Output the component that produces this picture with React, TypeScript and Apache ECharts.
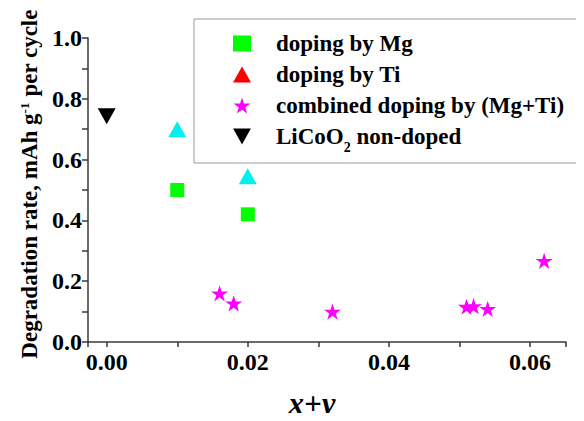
import React, { useEffect, useRef } from "react";
import * as echarts from "echarts";

const mgX = [0.01, 0.02];
const mgY = [0.5, 0.42];
const tiX = [0.01, 0.02];
const tiY = [0.7, 0.545];
const comboX = [0.016, 0.018, 0.032, 0.051, 0.052, 0.054, 0.062];
const comboY = [0.16, 0.127, 0.1, 0.116, 0.118, 0.109, 0.267];
const pureX = [0.0];
const pureY = [0.743];

const seriesNames = [
  "doping by Mg",
  "doping by Ti",
  "combined doping by (Mg+Ti)",
  "LiCoO2 non-doped",
];

const STAR =
  "path://M50,0 L61.2,34.5 L97.6,34.5 L68.2,55.9 L79.4,90.5 L50,69.1 L20.6,90.5 L31.8,55.9 L2.4,34.5 L38.8,34.5 Z";

const FONT = '"Liberation Serif", "Times New Roman", serif';

const zip = (xs: number[], ys: number[]) => xs.map((x, i) => [x, ys[i]]);

export default function App() {
  const ref = useRef<HTMLDivElement>(null);
  useEffect(() => {
    if (!ref.current) return;
    const chart = echarts.init(ref.current, null, { renderer: "svg" });
    chart.setOption({
      animation: false,
      backgroundColor: "#ffffff",
      grid: {
        left: 88,
        right: 18,
        top: 38,
        bottom: 79,
        outerBoundsMode: "none",
      },
      graphic: [
        {
          type: "rect",
          shape: { x: 194, y: 19, width: 420, height: 144 },
          style: { fill: "#ffffff", stroke: "#9a9a9a", lineWidth: 1 },
          z: 0,
          silent: true,
        },
      ],
      legend: {
        orient: "vertical",
        left: 233,
        top: 32,
        padding: 0,
        itemWidth: 18,
        itemHeight: 16,
        itemGap: 8,
        z: 10,
        textStyle: {
          fontFamily: FONT,
          fontWeight: "bold",
          fontSize: 23,
          lineHeight: 22,
          color: "#000000",
          padding: [0, 0, 0, 20],
          rich: {
            sub: {
              fontFamily: FONT,
              fontWeight: "bold",
              fontSize: 14,
              color: "#000000",
              verticalAlign: "top",
              padding: [15, 0, 0, 0],
            },
          },
        },
        formatter: (name: string) =>
          name === "LiCoO2 non-doped" ? "LiCoO{sub|2} non-doped" : name,
        data: [
          { name: seriesNames[0], icon: "rect", itemStyle: { color: "#00ff00", opacity: 1 } },
          { name: seriesNames[1], icon: "triangle", itemStyle: { color: "#ff0000", opacity: 1 } },
          { name: seriesNames[2], icon: STAR, itemStyle: { color: "#ff00ff", opacity: 1 } },
          { name: seriesNames[3], icon: "path://M0,0 L100,0 L50,90 Z", itemStyle: { color: "#000000", opacity: 1 } },
        ],
      },
      xAxis: {
        type: "value",
        min: -0.00265,
        max: 0.0651,
        minInterval: 0.01,
        maxInterval: 0.01,
        name: "x+y",
        nameLocation: "middle",
        nameGap: 46,
        nameTextStyle: {
          fontFamily: FONT,
          fontWeight: "bold",
          fontStyle: "italic",
          fontSize: 31,
          color: "#000000",
          padding: [0, 30, 0, 0],
        },
        axisLine: { show: true, onZero: false, lineStyle: { color: "#3a3a3a", width: 1.5 } },
        axisTick: { show: true, inside: false, length: 5, lineStyle: { color: "#3a3a3a", width: 1.5 } },
        axisLabel: {
          margin: 8,
          fontFamily: FONT,
          fontWeight: "bold",
          fontSize: 24,
          color: "#000000",
          formatter: (v: number) => {
            const k = v / 0.02;
            return Math.abs(k - Math.round(k)) < 1e-6 && v > -1e-9 ? v.toFixed(2) : "";
          },
        },
        splitLine: { show: false },
      },
      yAxis: {
        type: "value",
        min: 0,
        max: 1,
        interval: 0.1,
        name: "Degradation rate, mAh g{sup|-1} per cycle",
        nameLocation: "middle",
        nameGap: 44,
        nameTextStyle: {
          fontFamily: FONT,
          fontWeight: "bold",
          fontSize: 23,
          color: "#000000",
          padding: [0, 0, 0, 12],
          rich: {
            sup: {
              fontFamily: FONT,
              fontWeight: "bold",
              fontSize: 13,
              color: "#000000",
              verticalAlign: "top",
            },
          },
        },
        axisLine: { show: true, onZero: false, lineStyle: { color: "#3a3a3a", width: 1.5 } },
        axisTick: { show: true, inside: false, length: 6, lineStyle: { color: "#3a3a3a", width: 1.5 } },
        axisLabel: {
          margin: 6,
          fontFamily: FONT,
          fontWeight: "bold",
          fontSize: 24,
          color: "#000000",
          formatter: (v: number) => (Math.round(v * 10) % 2 === 0 ? v.toFixed(1) : ""),
        },
        splitLine: { show: false },
      },
      series: [
        {
          name: seriesNames[0],
          type: "scatter",
          symbol: "rect",
          symbolSize: 14,
          itemStyle: { color: "#00ff00", opacity: 1 },
          data: zip(mgX, mgY),
        },
        {
          name: seriesNames[1],
          type: "scatter",
          symbol: "triangle",
          symbolSize: [18, 16],
          itemStyle: { color: "#00f0f0", opacity: 1 },
          data: zip(tiX, tiY),
        },
        {
          name: seriesNames[2],
          type: "scatter",
          symbol: STAR,
          symbolSize: 17,
          symbolKeepAspect: true,
          itemStyle: { color: "#ff00ff", opacity: 1 },
          data: zip(comboX, comboY),
        },
        {
          name: seriesNames[3],
          type: "scatter",
          symbol: "triangle",
          symbolRotate: 180,
          symbolSize: [18, 16],
          itemStyle: { color: "#000000", opacity: 1 },
          data: zip(pureX, pureY),
        },
      ],
    });
    return () => chart.dispose();
  }, []);
  return <div ref={ref} style={{ width: 584, height: 421, margin: -8 }} />;
}
